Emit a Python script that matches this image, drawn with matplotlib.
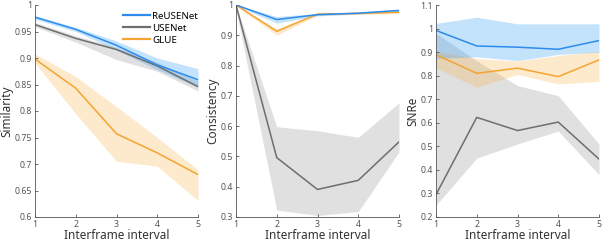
import numpy as np
import matplotlib
matplotlib.use("Agg")
import matplotlib.pyplot as plt
from matplotlib.ticker import FuncFormatter

# ---- data ----
intervals = [1, 2, 3, 4, 5]
names = ["ReUSENet", "USENet", "GLUE"]

sim_mean = {"ReUSENet": [0.977, 0.954, 0.924, 0.887, 0.859],
            "USENet":   [0.963, 0.937, 0.916, 0.885, 0.846],
            "GLUE":     [0.898, 0.843, 0.757, 0.721, 0.680]}
sim_lo = {"ReUSENet": [0.973, 0.950, 0.915, 0.878, 0.845],
          "USENet":   [0.959, 0.930, 0.897, 0.875, 0.838],
          "GLUE":     [0.890, 0.795, 0.705, 0.696, 0.631]}
sim_hi = {"ReUSENet": [0.980, 0.958, 0.932, 0.900, 0.880],
          "USENet":   [0.967, 0.942, 0.920, 0.892, 0.856],
          "GLUE":     [0.908, 0.865, 0.808, 0.750, 0.689]}

con_mean = {"ReUSENet": [1.0, 0.952, 0.968, 0.973, 0.982],
            "USENet":   [1.0, 0.496, 0.391, 0.421, 0.548],
            "GLUE":     [1.0, 0.913, 0.970, 0.972, 0.976]}
con_lo = {"ReUSENet": [0.998, 0.940, 0.964, 0.970, 0.978],
          "USENet":   [0.985, 0.323, 0.305, 0.318, 0.515],
          "GLUE":     [0.998, 0.900, 0.966, 0.969, 0.972]}
con_hi = {"ReUSENet": [1.0, 0.962, 0.972, 0.976, 0.986],
          "USENet":   [1.0, 0.598, 0.585, 0.563, 0.677],
          "GLUE":     [1.0, 0.922, 0.974, 0.975, 0.980]}

snr_mean = {"ReUSENet": [0.992, 0.926, 0.921, 0.912, 0.949],
            "USENet":   [0.295, 0.623, 0.567, 0.603, 0.446],
            "GLUE":     [0.889, 0.810, 0.832, 0.796, 0.867]}
snr_lo = {"ReUSENet": [0.874, 0.880, 0.864, 0.890, 0.900],
          "USENet":   [0.250, 0.450, 0.510, 0.565, 0.380],
          "GLUE":     [0.832, 0.751, 0.805, 0.765, 0.775]}
snr_hi = {"ReUSENet": [1.022, 1.048, 1.020, 1.020, 1.020],
          "USENet":   [0.980, 0.863, 0.758, 0.715, 0.510],
          "GLUE":     [0.905, 0.872, 0.862, 0.885, 0.905]}

# ---- styling ----
plt.rcParams.update({"font.family": ["Noto Sans", "DejaVu Sans"], "font.size": 7})
AX_COL = "#555555"
TXT_COL = "#333333"
COL = {"ReUSENet": "#2b8cee", "USENet": "#6e6e6e", "GLUE": "#f3a431"}
BAND = {"ReUSENet": ("#3aa0f5", 0.30), "USENet": ("#9a9a9a", 0.30), "GLUE": ("#f8b448", 0.28)}
DRAW = ["USENet", "GLUE", "ReUSENet"]

fig = plt.figure(figsize=(6.02, 2.42), dpi=100)
W = 163 / 602
H = 212 / 242
B = 25 / 242
lefts = [35 / 602, 236 / 602, 436 / 602]

panels = [
    (sim_mean, sim_lo, sim_hi, "Similarity", (0.6, 1.0), np.arange(0.6, 1.0001, 0.05)),
    (con_mean, con_lo, con_hi, "Consistency", (0.3, 1.0), np.arange(0.3, 1.0001, 0.1)),
    (snr_mean, snr_lo, snr_hi, "SNRe", (0.2, 1.1), np.arange(0.2, 1.1001, 0.1)),
]

axes = []
for left, (mean, lo, hi, ylab, ylim, yt) in zip(lefts, panels):
    ax = fig.add_axes([left, B, W, H])
    for n in DRAW:
        c, a = BAND[n]
        ax.fill_between(intervals, lo[n], hi[n], color=c, alpha=a, lw=0)
    for n in DRAW:
        ax.plot(intervals, mean[n], color=COL[n], lw=1.1)
    ax.set_xlim(1, 5)
    ax.set_ylim(*ylim)
    ax.set_xticks(intervals)
    ax.set_yticks(np.round(yt, 2))
    ax.yaxis.set_major_formatter(FuncFormatter(lambda v, p: f"{v:g}"))
    ax.spines["top"].set_visible(False)
    ax.spines["right"].set_visible(False)
    for s in ("left", "bottom"):
        ax.spines[s].set_color(AX_COL)
        ax.spines[s].set_linewidth(0.6)
    ax.tick_params(direction="in", length=2.5, width=0.6, colors=AX_COL,
                   labelsize=6.3, pad=2)
    ax.set_xlabel("Interframe interval", fontsize=8.5, color=TXT_COL, labelpad=0.5)
    ax.set_ylabel(ylab, fontsize=8.5, color=TXT_COL, labelpad=1)
    axes.append(ax)

handles = [plt.Line2D([], [], color=COL[n], lw=1.6) for n in names]
axes[0].legend(handles, names, loc="upper left", bbox_to_anchor=(0.5, 1.0),
               frameon=False, fontsize=7, handlelength=2.7, handletextpad=0.3,
               labelspacing=0.3, borderaxespad=0.3)

fig.savefig("out.png", dpi=100, facecolor="white")
